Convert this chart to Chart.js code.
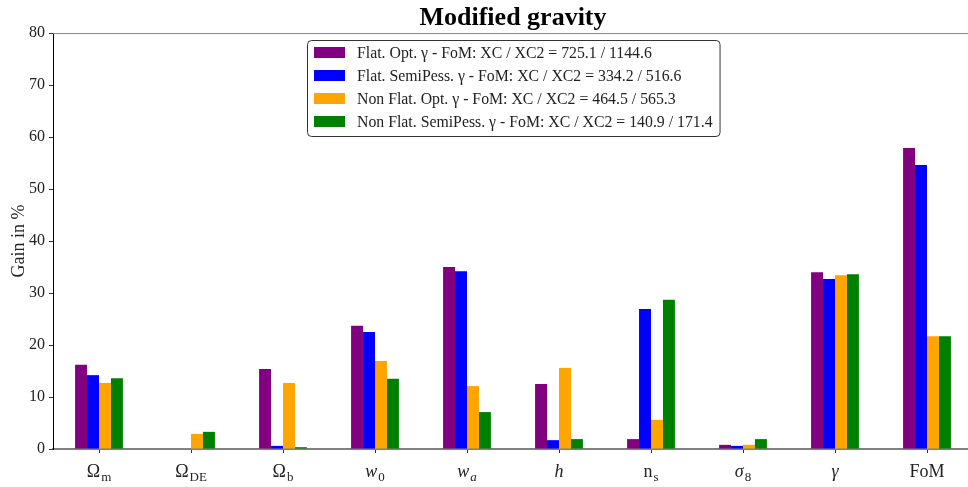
<!DOCTYPE html>
<html>
<head>
<meta charset="utf-8">
<script src="https://cdn.jsdelivr.net/npm/chart.js@4.4.1/dist/chart.umd.min.js"></script>
<style>
    html, body { margin: 0; padding: 0; background: #fff; overflow: hidden; }
    #wrap { width: 980px; height: 487px; }
</style>
</head>
<body>
<div id="wrap"><canvas id="myChart"></canvas></div>
<script>
// dane
const categories = ['Ω_m', 'Ω_DE', 'Ω_b', 'w_0', 'w_a', 'h', 'n_s', 'σ_8', 'γ', 'FoM'];
const flatOpt = [16.2, 0.1, 15.4, 23.7, 35.0, 12.5, 1.9, 0.8, 34.0, 57.9];
const flatSemiPess = [14.2, 0.1, 0.6, 22.5, 34.2, 1.7, 26.9, 0.6, 32.7, 54.6];
const nonFlatOpt = [12.7, 2.9, 12.7, 16.9, 12.1, 15.6, 5.6, 0.8, 33.4, 21.7];
const nonFlatSemiPess = [13.6, 3.3, 0.35, 13.5, 7.1, 1.9, 28.7, 1.9, 33.6, 21.7];
const seriesNames = [
    'Flat. Opt. γ - FoM: XC / XC2 = 725.1 / 1144.6',
    'Flat. SemiPess. γ - FoM: XC / XC2 = 334.2 / 516.6',
    'Non Flat. Opt. γ - FoM: XC / XC2 = 464.5 / 565.3',
    'Non Flat. SemiPess. γ - FoM: XC / XC2 = 140.9 / 171.4'
];
const yMin = 0, yMax = 80, yStep = 10;

const serif = "'Liberation Serif', 'DejaVu Serif', serif";
const mathItalic = ['w', 'a', 'h', 'σ', 'γ'];

// etykiety osi x z indeksami dolnymi
const subLabels = {
    id: 'subLabels',
    afterDraw(chart) {
        const ctx = chart.ctx;
        const xs = chart.scales.x;
        ctx.save();
        ctx.fillStyle = '#222';
        ctx.textBaseline = 'alphabetic';
        categories.forEach((lab, i) => {
            const parts = lab.split('_');
            const base = parts[0], sub = parts[1] || '';
            const baseFont = (mathItalic.includes(base) ? 'italic ' : '') + '18px ' + serif;
            const subFont = (mathItalic.includes(sub) ? 'italic ' : '') + '13px ' + serif;
            ctx.font = baseFont;
            const wb = ctx.measureText(base).width;
            ctx.font = subFont;
            const ws = sub ? ctx.measureText(sub).width + 1 : 0;
            let x = xs.getPixelForValue(i) - (wb + ws) / 2;
            ctx.font = baseFont;
            ctx.textAlign = 'left';
            ctx.fillText(base, x, 477);
            if (sub) {
                ctx.font = subFont;
                ctx.fillText(sub, x + wb + 1, 481);
            }
        });
        ctx.restore();
    }
};

// legenda w ramce + górna linia
const boxLegend = {
    id: 'boxLegend',
    afterDraw(chart) {
        const ctx = chart.ctx;
        const area = chart.chartArea;
        ctx.save();
        // górna krawędź
        ctx.strokeStyle = '#888';
        ctx.lineWidth = 1;
        ctx.beginPath();
        ctx.moveTo(area.left, area.top + 0.5);
        ctx.lineTo(area.right, area.top + 0.5);
        ctx.stroke();

        const font = '15.8px ' + serif;
        ctx.font = font;
        let maxW = 0;
        chart.data.datasets.forEach(ds => {
            maxW = Math.max(maxW, ctx.measureText(ds.label).width);
        });
        const w = 7 + 31 + 12 + maxW + 7;
        const h = 96;
        const cx = (area.left + area.right) / 2;
        const x0 = Math.round(cx - w / 2) + 0.5;
        const y0 = area.top + 7.5;
        ctx.fillStyle = 'rgba(255,255,255,0.8)';
        ctx.strokeStyle = '#333';
        ctx.beginPath();
        ctx.roundRect(x0, y0, w, h, 4);
        ctx.fill();
        ctx.stroke();
        chart.data.datasets.forEach((ds, i) => {
            const ry = y0 + 12 + i * 23;
            ctx.fillStyle = ds.backgroundColor;
            ctx.fillRect(x0 + 6.5, ry - 5.5, 31, 11);
            ctx.fillStyle = '#222';
            ctx.font = font;
            ctx.textBaseline = 'middle';
            ctx.fillText(ds.label, x0 + 49.5, ry + 1);
        });
        ctx.restore();
    }
};

const ctx = document.getElementById('myChart').getContext('2d');
const myChart = new Chart(ctx, {
    type: 'bar',
    data: {
        labels: categories,
        datasets: [
            { label: seriesNames[0], data: flatOpt, backgroundColor: '#800080' },
            { label: seriesNames[1], data: flatSemiPess, backgroundColor: '#0000ff' },
            { label: seriesNames[2], data: nonFlatOpt, backgroundColor: '#ffa500' },
            { label: seriesNames[3], data: nonFlatSemiPess, backgroundColor: '#008000' }
        ]
    },
    options: {
        responsive: true,
        maintainAspectRatio: false,
        animation: false,
        datasets: {
            bar: { categoryPercentage: 0.52, barPercentage: 1.0 }
        },
        layout: { padding: { left: 0, right: 7, top: 0, bottom: 0 } },
        scales: {
            x: {
                z: 1,
                grid: { display: true, drawOnChartArea: false, drawTicks: true, tickLength: 4, color: '#333', offset: false },
                border: { color: 'rgba(60,60,60,0.65)', width: 2 },
                ticks: { color: 'transparent', font: { size: 18, family: serif } },
                afterFit: scale => { scale.height = 38; }
            },
            y: {
                min: yMin,
                max: yMax,
                grid: { display: true, drawOnChartArea: false, drawTicks: true, tickLength: 4, color: '#333' },
                border: { color: '#000', width: 1 },
                ticks: { stepSize: yStep, padding: 4, color: '#222', font: { size: 16, family: serif } },
                title: { display: true, text: 'Gain in %', color: '#222', padding: { top: 8, bottom: 0 }, font: { size: 18, family: serif } },
                afterFit: scale => { scale.width = 53; }
            }
        },
        plugins: {
            legend: { display: false },
            tooltip: { enabled: false },
            title: {
                display: true,
                fullSize: false,
                text: 'Modified gravity',
                color: '#000',
                font: { size: 26, weight: 'bold', family: serif, lineHeight: 1.0 },
                padding: { top: 5, bottom: 2 }
            }
        }
    },
    plugins: [subLabels, boxLegend]
});
</script>
</body>
</html>
